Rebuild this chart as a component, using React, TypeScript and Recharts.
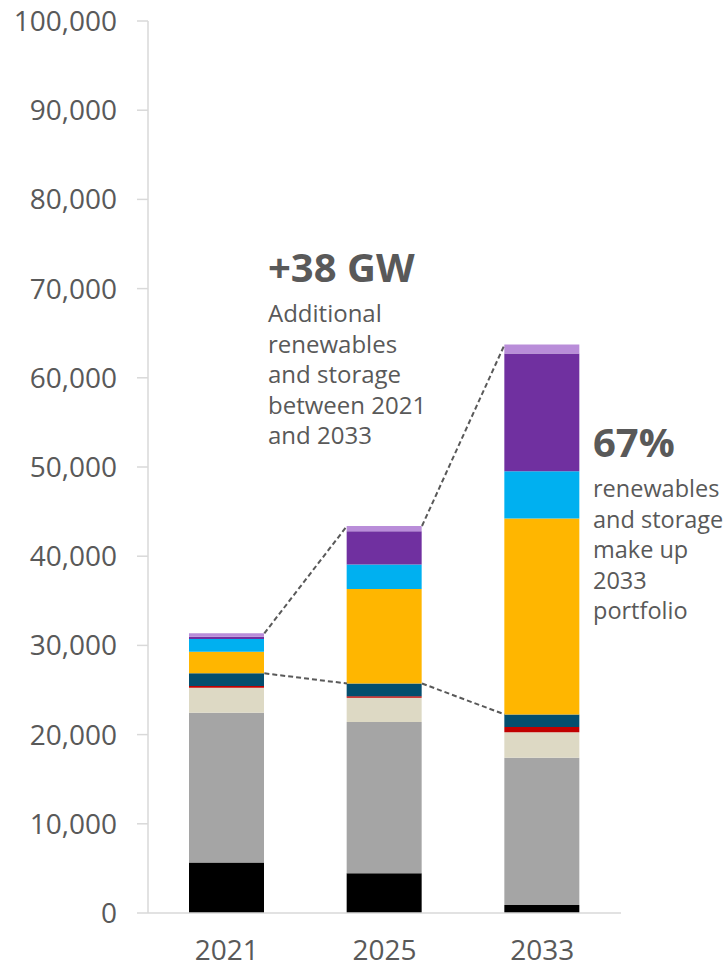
import React from 'react';
import { ComposedChart, Bar, Line, XAxis, YAxis } from 'recharts';

// capacity by resource, MW (bottom -> top)
const years = ['2021', '2025', '2033'];
const coal = [5650, 4450, 900];
const gas = [16800, 16950, 16500];
const nuclear = [2800, 2720, 2850];
const oil = [200, 190, 590];
const hydro = [1420, 1420, 1420];
const solar = [2420, 10600, 21970];
const wind = [1420, 2740, 5300];
const storage = [260, 3730, 13200];
const other = [380, 590, 1010];

const yTicks = [0, 10000, 20000, 30000, 40000, 50000, 60000, 70000, 80000, 90000, 100000];

const series = [
    { key: 'coal', values: coal, color: '#000000' },
    { key: 'gas', values: gas, color: '#A5A5A5' },
    { key: 'nuclear', values: nuclear, color: '#DDD9C4' },
    { key: 'oil', values: oil, color: '#C00000' },
    { key: 'hydro', values: hydro, color: '#044E6E' },
    { key: 'solar', values: solar, color: '#FFB600' },
    { key: 'wind', values: wind, color: '#00B0F0' },
    { key: 'storage', values: storage, color: '#7030A0' },
    { key: 'other', values: other, color: '#B98DD9' },
];

const data = years.map((year, i) => {
    const row: Record<string, string | number> = { year };
    series.forEach((s) => { row[s.key] = s.values[i]; });
    return row;
});

// stack heights used by the connector lines
const baseKeys = ['coal', 'gas', 'nuclear', 'oil', 'hydro'];
const baseTotals = years.map((_, i) =>
    series.filter((s) => baseKeys.includes(s.key)).reduce((acc, s) => acc + s.values[i], 0));
const fullTotals = years.map((_, i) => series.reduce((acc, s) => acc + s.values[i], 0));

const W = 725;
const H = 969;
const MARGIN = { top: 21, right: 104, bottom: 0, left: 0 };
const Y_AXIS_W = 148;
const X_AXIS_H = 56;
const BAR_SIZE = 75;
const PLOT_W = W - MARGIN.left - MARGIN.right - Y_AXIS_W;
const halfBar = BAR_SIZE / 2 / (PLOT_W / years.length);

const connectors: { x: number; y: number }[][] = [];
[baseTotals, fullTotals].forEach((tot) => {
    for (let i = 0; i < years.length - 1; i++) {
        connectors.push([
            { x: i + 0.5 + halfBar, y: tot[i] },
            { x: i + 1.5 - halfBar, y: tot[i + 1] },
        ]);
    }
});

const GREY = '#595959';
const AXIS = '#D9D9D9';
const FONT = '"Open Sans", sans-serif';

const leftNote = ['Additional', 'renewables', 'and storage', 'between 2021', 'and 2033'];
const rightNote = ['renewables', 'and storage', 'make up', '2033', 'portfolio'];

export default function App() {
    return (
        <div style={{ position: 'absolute', top: 0, left: 0, width: W, height: H, background: '#fff', fontFamily: FONT }}>
            <ComposedChart width={W} height={H} data={data} margin={MARGIN}>
                <XAxis
                    xAxisId="cat"
                    dataKey="year"
                    height={X_AXIS_H}
                    axisLine={{ stroke: AXIS, strokeWidth: 1.5 }}
                    tickLine={false}
                    tickSize={0}
                    tickMargin={27}
                    tick={{ fill: GREY, fontSize: 28, fontFamily: FONT }}
                />
                <XAxis xAxisId="num" type="number" dataKey="x" domain={[0, years.length]} hide allowDataOverflow />
                <YAxis
                    width={Y_AXIS_W}
                    domain={[0, 100000]}
                    ticks={yTicks}
                    interval={0}
                    axisLine={{ stroke: AXIS, strokeWidth: 1.5 }}
                    tickLine={{ stroke: AXIS, strokeWidth: 1.5 }}
                    tickSize={11}
                    tickMargin={20}
                    tick={{ fill: GREY, fontSize: 28, fontFamily: FONT }}
                    tickFormatter={(v: number) => v.toLocaleString('en-US')}
                />
                {series.map((s) => (
                    <Bar
                        key={s.key}
                        xAxisId="cat"
                        dataKey={s.key}
                        stackId="a"
                        fill={s.color}
                        barSize={BAR_SIZE}
                        isAnimationActive={false}
                    />
                ))}
                {connectors.map((seg, i) => (
                    <Line
                        key={`c${i}`}
                        xAxisId="num"
                        data={seg}
                        dataKey="y"
                        type="linear"
                        stroke={GREY}
                        strokeWidth={2}
                        strokeDasharray="5 3"
                        dot={false}
                        activeDot={false}
                        isAnimationActive={false}
                    />
                ))}
            </ComposedChart>
            <svg width={W} height={H} style={{ position: 'absolute', top: 0, left: 0, pointerEvents: 'none' }}>
                <text x={268} y={282} fill={GREY} fontSize={40} fontWeight={700} fontFamily={FONT}>+38 GW</text>
                {leftNote.map((t, i) => (
                    <text key={t} x={268} y={322 + i * 30.5} fill={GREY} fontSize={24} fontFamily={FONT}>{t}</text>
                ))}
                <text x={593} y={457} fill={GREY} fontSize={40} fontWeight={700} fontFamily={FONT}>67%</text>
                {rightNote.map((t, i) => (
                    <text key={t} x={593} y={497 + i * 30.5} fill={GREY} fontSize={23.5} fontFamily={FONT}>{t}</text>
                ))}
            </svg>
        </div>
    );
}
